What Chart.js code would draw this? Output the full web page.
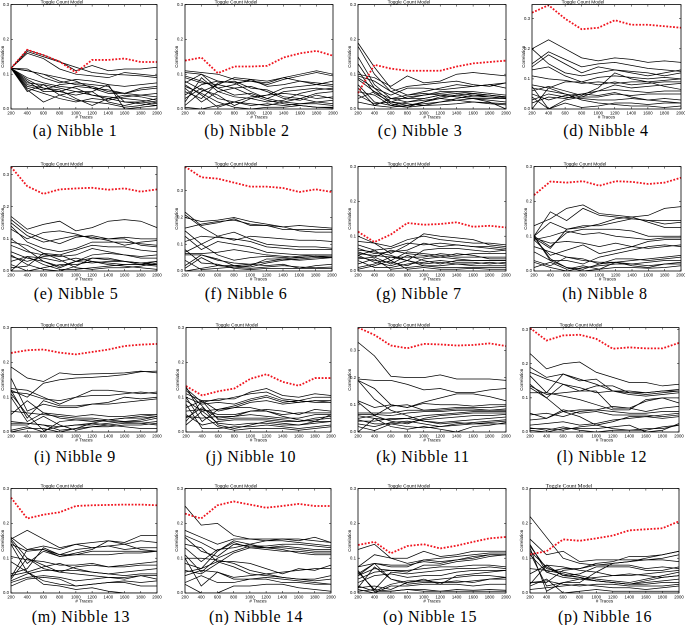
<!DOCTYPE html>
<html><head><meta charset="utf-8">
<script src="https://cdn.jsdelivr.net/npm/chart.js@4"></script>
<style>
body{margin:0;background:#fff;width:685px;height:625px;position:relative;overflow:hidden}
canvas{position:absolute}
.cap{position:absolute;width:200px;text-align:center;font-family:"Liberation Serif",serif;font-size:16px;letter-spacing:0.6px;line-height:16px;color:#000;white-space:nowrap}
</style></head><body>
<script>
// ---------------- DATA ----------------
const traceCounts = ['200','400','600','800','1000','1200','1400','1600','1800','2000'];
const captions = ['(a) Nibble 1','(b) Nibble 2','(c) Nibble 3','(d) Nibble 4','(e) Nibble 5','(f) Nibble 6','(g) Nibble 7','(h) Nibble 8','(i) Nibble 9','(j) Nibble 10','(k) Nibble 11','(l) Nibble 12','(m) Nibble 13','(n) Nibble 14','(o) Nibble 15','(p) Nibble 16'];
const yMaxes = [0.3,0.3,0.3,0.347,0.325,0.39,0.3,0.3,0.3,0.3,0.384,0.306,0.3,0.3,0.3,0.3];
const yTickValues = [0,0.1,0.2,0.3];

const nibble1Red = [0.117,0.17,0.155,0.136,0.105,0.141,0.141,0.145,0.135,0.135];
const nibble1Black = [
[0.117,0.17,0.155,0.137,0.11,0.125,0.11,0.115,0.115,0.12],
[0.117,0.165,0.15,0.135,0.12,0.105,0.1,0.098,0.095,0.09],
[0.117,0.16,0.145,0.115,0.1,0.095,0.09,0.105,0.1,0.095],
[0.117,0.115,0.09,0.075,0.085,0.08,0.07,0.065,0.07,0.075],
[0.117,0.11,0.1,0.08,0.07,0.065,0.05,0.045,0.04,0.035],
[0.117,0.09,0.075,0.065,0.06,0.04,0.035,0.03,0.025,0.02],
[0.117,0.085,0.06,0.05,0.065,0.06,0.045,0.045,0.055,0.06],
[0.117,0.08,0.05,0.05,0.04,0.05,0.02,0.01,0.02,0.03],
[0.117,0.07,0.06,0.055,0.03,0.01,0.03,0.02,0.015,0.01],
[0.117,0.065,0.055,0.07,0.075,0.07,0.065,0.02,0.02,0.015],
[0.117,0.06,0.045,0.03,0.02,0.03,0.025,0.035,0.04,0.045],
[0.117,0.055,0.02,0.04,0.05,0.05,0.07,0.0,0.005,0.01],
[0.117,0.05,0.07,0.06,0.05,0.04,0.03,0.04,0.035,0.025],
[0.117,0.11,0.1,0.09,0.08,0.06,0.055,0.045,0.06,0.065],
[0.117,0.075,0.07,0.04,0.025,0.02,0.015,0.005,0.01,0.02]];

const nibble2Red = [0.139,0.148,0.103,0.122,0.122,0.124,0.148,0.16,0.167,0.153];
const nibble2Black = [
[0.11,0.105,0.1,0.085,0.08,0.075,0.09,0.1,0.11,0.1],
[0.105,0.1,0.08,0.075,0.08,0.07,0.085,0.095,0.105,0.095],
[0.095,0.08,0.06,0.07,0.085,0.08,0.09,0.08,0.07,0.065],
[0.09,0.075,0.07,0.09,0.085,0.065,0.07,0.08,0.075,0.07],
[0.08,0.055,0.04,0.01,0.03,0.04,0.06,0.065,0.07,0.08],
[0.075,0.1,0.06,0.04,0.045,0.03,0.05,0.055,0.06,0.055],
[0.07,0.04,0.005,0.02,0.035,0.04,0.045,0.04,0.03,0.035],
[0.06,0.02,0.05,0.06,0.065,0.05,0.03,0.025,0.04,0.03],
[0.05,0.03,0.075,0.08,0.06,0.055,0.035,0.03,0.02,0.025],
[0.04,0.07,0.08,0.075,0.05,0.03,0.02,0.015,0.015,0.01],
[0.03,0.06,0.03,0.02,0.015,0.01,0.02,0.03,0.045,0.05],
[0.01,0.05,0.07,0.06,0.04,0.025,0.015,0.01,0.005,0.003],
[0.005,0.0,0.01,0.02,0.01,0.015,0.01,0.015,0.02,0.015],
[0.02,0.09,0.05,0.035,0.03,0.02,0.025,0.045,0.055,0.06],
[0.065,0.045,0.02,0.005,0.0,0.005,0.005,0.01,0.005,0.005]];

const nibble3Red = [0.046,0.127,0.116,0.11,0.11,0.11,0.122,0.131,0.135,0.139];
const nibble3Black = [
[0.19,0.12,0.06,0.04,0.05,0.06,0.07,0.065,0.07,0.075],
[0.18,0.1,0.05,0.03,0.03,0.04,0.045,0.04,0.04,0.035],
[0.15,0.07,0.03,0.03,0.04,0.05,0.05,0.05,0.045,0.04],
[0.13,0.06,0.02,0.01,0.02,0.035,0.04,0.035,0.035,0.03],
[0.1,0.09,0.065,0.095,0.075,0.08,0.1,0.105,0.1,0.095],
[0.095,0.08,0.05,0.065,0.07,0.075,0.08,0.07,0.065,0.075],
[0.09,0.06,0.04,0.06,0.06,0.055,0.06,0.065,0.07,0.06],
[0.085,0.05,0.015,0.005,0.02,0.03,0.04,0.045,0.04,0.035],
[0.07,0.02,0.01,0.02,0.03,0.04,0.035,0.03,0.03,0.03],
[0.06,0.01,0.03,0.04,0.045,0.04,0.035,0.03,0.025,0.02],
[0.05,0.04,0.01,0.005,0.01,0.02,0.03,0.04,0.035,0.03],
[0.04,0.015,0.02,0.035,0.04,0.045,0.05,0.045,0.04,0.033],
[0.03,0.05,0.03,0.02,0.025,0.03,0.025,0.02,0.015,0.012],
[0.02,0.01,0.005,0.01,0.015,0.02,0.025,0.03,0.02,0.0],
[0.11,0.045,0.02,0.015,0.01,0.012,0.015,0.02,0.018,0.015]];

const nibble4Red = [0.32,0.345,0.3,0.265,0.27,0.295,0.28,0.28,0.275,0.27];
const nibble4Black = [
[0.2,0.23,0.2,0.17,0.16,0.17,0.165,0.155,0.16,0.155],
[0.15,0.19,0.165,0.14,0.15,0.155,0.145,0.135,0.13,0.125],
[0.14,0.18,0.15,0.12,0.14,0.13,0.12,0.11,0.12,0.13],
[0.2,0.15,0.12,0.11,0.12,0.13,0.125,0.12,0.11,0.12],
[0.13,0.14,0.11,0.09,0.105,0.11,0.105,0.1,0.105,0.1],
[0.11,0.1,0.095,0.085,0.09,0.085,0.09,0.09,0.095,0.1],
[0.08,0.07,0.09,0.09,0.08,0.09,0.08,0.085,0.09,0.09],
[0.07,0.06,0.05,0.04,0.06,0.08,0.07,0.075,0.08,0.085],
[0.06,0.075,0.06,0.045,0.07,0.12,0.1,0.09,0.075,0.065],
[0.05,0.03,0.045,0.05,0.06,0.065,0.06,0.055,0.06,0.06],
[0.04,0.0,0.03,0.04,0.04,0.05,0.045,0.05,0.05,0.05],
[0.03,0.05,0.04,0.035,0.03,0.03,0.035,0.03,0.035,0.03],
[0.0,0.07,0.05,0.03,0.02,0.015,0.01,0.01,0.005,0.01],
[0.075,0.0,0.02,0.005,0.01,0.02,0.02,0.015,0.02,0.02],
[0.02,0.04,0.035,0.05,0.045,0.055,0.04,0.03,0.025,0.02]];

const nibble5Red = [0.324,0.264,0.24,0.254,0.257,0.259,0.253,0.257,0.247,0.254];
const nibble5Black = [
[0.17,0.13,0.145,0.155,0.125,0.135,0.155,0.16,0.155,0.135],
[0.16,0.12,0.1,0.085,0.105,0.11,0.1,0.105,0.1,0.1],
[0.15,0.11,0.09,0.1,0.11,0.105,0.095,0.08,0.09,0.095],
[0.14,0.09,0.07,0.06,0.07,0.09,0.09,0.09,0.085,0.08],
[0.13,0.1,0.12,0.125,0.115,0.1,0.1,0.1,0.08,0.075],
[0.09,0.08,0.055,0.05,0.065,0.08,0.075,0.075,0.065,0.06],
[0.08,0.06,0.05,0.045,0.05,0.07,0.06,0.05,0.045,0.05],
[0.1,0.065,0.03,0.01,0.03,0.05,0.055,0.05,0.04,0.04],
[0.05,0.02,0.005,0.0,0.015,0.04,0.04,0.03,0.02,0.03],
[0.045,0.03,0.045,0.05,0.03,0.025,0.03,0.03,0.025,0.03],
[0.03,0.045,0.04,0.03,0.04,0.03,0.025,0.02,0.02,0.02],
[0.0,0.045,0.02,0.005,0.005,0.01,0.015,0.02,0.02,0.015],
[0.02,0.0,0.01,0.02,0.02,0.03,0.02,0.015,0.01,0.005],
[0.01,0.015,0.055,0.035,0.01,0.005,0.01,0.01,0.015,0.025],
[0.06,0.04,0.03,0.015,0.03,0.04,0.035,0.03,0.025,0.02]];

const nibble6Red = [0.39,0.35,0.345,0.33,0.315,0.315,0.31,0.295,0.305,0.295];
const nibble6Black = [
[0.2,0.185,0.19,0.2,0.185,0.175,0.165,0.17,0.165,0.16],
[0.22,0.17,0.18,0.195,0.17,0.17,0.155,0.155,0.155,0.155],
[0.16,0.175,0.185,0.19,0.175,0.17,0.165,0.15,0.145,0.145],
[0.21,0.165,0.13,0.115,0.13,0.125,0.12,0.115,0.115,0.11],
[0.15,0.1,0.13,0.145,0.12,0.1,0.095,0.09,0.09,0.085],
[0.11,0.13,0.125,0.12,0.11,0.09,0.085,0.08,0.08,0.08],
[0.13,0.08,0.11,0.1,0.09,0.07,0.065,0.06,0.06,0.06],
[0.065,0.065,0.07,0.08,0.07,0.06,0.055,0.05,0.055,0.055],
[0.07,0.1,0.06,0.04,0.05,0.055,0.05,0.055,0.06,0.06],
[0.06,0.06,0.04,0.03,0.025,0.035,0.045,0.05,0.055,0.05],
[0.02,0.06,0.045,0.02,0.015,0.03,0.04,0.045,0.05,0.05],
[0.01,0.05,0.02,0.015,0.02,0.045,0.045,0.04,0.045,0.05],
[0.0,0.01,0.02,0.02,0.025,0.02,0.025,0.01,0.02,0.025],
[0.04,0.005,0.01,0.015,0.01,0.015,0.02,0.015,0.012,0.015],
[0.08,0.03,0.025,0.01,0.005,0.01,0.01,0.01,0.01,0.01]];

const nibble7Red = [0.113,0.083,0.105,0.138,0.133,0.135,0.14,0.127,0.13,0.125];
const nibble7Black = [
[0.1,0.08,0.05,0.075,0.107,0.1,0.095,0.09,0.075,0.07],
[0.085,0.08,0.07,0.09,0.1,0.09,0.085,0.08,0.08,0.075],
[0.075,0.06,0.065,0.08,0.075,0.08,0.075,0.07,0.065,0.06],
[0.065,0.05,0.055,0.06,0.08,0.07,0.075,0.07,0.07,0.065],
[0.06,0.055,0.045,0.03,0.06,0.065,0.065,0.06,0.055,0.06],
[0.05,0.045,0.04,0.04,0.04,0.05,0.045,0.05,0.05,0.05],
[0.045,0.06,0.03,0.055,0.05,0.045,0.04,0.04,0.04,0.04],
[0.04,0.03,0.025,0.015,0.035,0.04,0.05,0.045,0.035,0.035],
[0.035,0.04,0.02,0.045,0.03,0.02,0.03,0.03,0.03,0.03],
[0.03,0.01,0.01,0.02,0.025,0.03,0.025,0.025,0.02,0.025],
[0.02,0.035,0.005,0.01,0.015,0.015,0.02,0.015,0.015,0.015],
[0.01,0.02,0.04,0.03,0.015,0.01,0.01,0.01,0.01,0.01],
[0.005,0.015,0.03,0.005,0.01,0.005,0.005,0.008,0.005,0.005],
[0.045,0.025,0.015,0.03,0.02,0.025,0.02,0.02,0.025,0.02],
[0.055,0.04,0.06,0.05,0.045,0.04,0.035,0.03,0.03,0.03]];

const nibble8Red = [0.218,0.257,0.254,0.258,0.245,0.258,0.256,0.25,0.254,0.268];
const nibble8Black = [
[0.1,0.17,0.145,0.18,0.16,0.155,0.15,0.145,0.145,0.145],
[0.13,0.15,0.18,0.19,0.165,0.16,0.155,0.16,0.18,0.185],
[0.1,0.14,0.12,0.125,0.135,0.15,0.155,0.14,0.125,0.125],
[0.095,0.065,0.12,0.13,0.13,0.14,0.15,0.145,0.135,0.14],
[0.1,0.07,0.11,0.12,0.12,0.12,0.115,0.1,0.1,0.1],
[0.09,0.1,0.115,0.105,0.11,0.1,0.095,0.09,0.095,0.095],
[0.095,0.08,0.085,0.08,0.07,0.08,0.07,0.085,0.09,0.09],
[0.09,0.045,0.06,0.075,0.05,0.06,0.07,0.065,0.07,0.075],
[0.055,0.03,0.03,0.02,0.04,0.05,0.06,0.07,0.075,0.07],
[0.1,0.03,0.01,0.005,0.02,0.035,0.035,0.03,0.035,0.04],
[0.03,0.015,0.04,0.035,0.02,0.025,0.02,0.025,0.03,0.03],
[0.025,0.01,0.0,0.01,0.015,0.02,0.02,0.015,0.02,0.02],
[0.01,0.025,0.005,0.015,0.005,0.01,0.01,0.008,0.01,0.015],
[0.1,0.035,0.01,0.0,0.005,0.025,0.015,0.01,0.02,0.025],
[0.07,0.055,0.04,0.03,0.025,0.025,0.03,0.035,0.04,0.045]];

const nibble9Red = [0.227,0.235,0.237,0.228,0.223,0.23,0.237,0.247,0.251,0.253];
const nibble9Black = [
[0.187,0.155,0.145,0.17,0.165,0.167,0.168,0.17,0.175,0.17],
[0.12,0.1,0.14,0.15,0.155,0.157,0.16,0.165,0.173,0.175],
[0.125,0.12,0.1,0.08,0.1,0.12,0.12,0.115,0.11,0.115],
[0.115,0.11,0.095,0.09,0.1,0.105,0.105,0.11,0.115,0.11],
[0.155,0.06,0.08,0.07,0.07,0.08,0.085,0.1,0.095,0.1],
[0.12,0.04,0.09,0.075,0.075,0.08,0.08,0.085,0.09,0.095],
[0.1,0.03,0.055,0.05,0.045,0.05,0.045,0.045,0.05,0.05],
[0.06,0.055,0.05,0.045,0.04,0.04,0.035,0.04,0.045,0.05],
[0.03,0.025,0.02,0.005,0.01,0.025,0.035,0.03,0.035,0.045],
[0.025,0.025,0.02,0.015,0.02,0.02,0.025,0.03,0.03,0.04],
[0.02,0.02,0.045,0.02,0.005,0.015,0.02,0.025,0.025,0.03],
[0.0,0.01,0.01,0.0,0.01,0.015,0.015,0.02,0.02,0.025],
[0.005,0.015,0.0,0.03,0.035,0.035,0.03,0.028,0.025,0.02],
[0.11,0.05,0.005,0.015,0.02,0.025,0.02,0.015,0.01,0.01],
[0.05,0.09,0.055,0.04,0.035,0.03,0.035,0.04,0.04,0.045]];

const nibble10Red = [0.132,0.105,0.117,0.125,0.153,0.166,0.144,0.133,0.155,0.155];
const nibble10Black = [
[0.125,0.085,0.095,0.095,0.115,0.125,0.105,0.1,0.11,0.105],
[0.11,0.09,0.09,0.1,0.11,0.115,0.095,0.09,0.1,0.1],
[0.1,0.08,0.085,0.08,0.095,0.105,0.09,0.085,0.09,0.09],
[0.09,0.06,0.065,0.075,0.09,0.1,0.085,0.09,0.085,0.085],
[0.07,0.09,0.06,0.07,0.085,0.09,0.08,0.085,0.09,0.085],
[0.12,0.075,0.02,0.01,0.02,0.03,0.025,0.02,0.03,0.05],
[0.13,0.05,0.015,0.005,0.01,0.01,0.01,0.005,0.01,0.015],
[0.06,0.065,0.05,0.05,0.06,0.06,0.05,0.055,0.055,0.055],
[0.04,0.07,0.04,0.045,0.05,0.045,0.04,0.04,0.05,0.05],
[0.03,0.09,0.035,0.04,0.04,0.04,0.035,0.03,0.04,0.045],
[0.05,0.02,0.03,0.035,0.035,0.035,0.03,0.03,0.035,0.04],
[0.02,0.06,0.025,0.02,0.025,0.025,0.02,0.02,0.025,0.03],
[0.08,0.01,0.01,0.015,0.015,0.02,0.015,0.01,0.015,0.02],
[0.045,0.04,0.045,0.045,0.06,0.065,0.06,0.05,0.065,0.06],
[0.1,0.03,0.065,0.07,0.07,0.06,0.045,0.035,0.03,0.03]];

const nibble11Red = [0.384,0.357,0.318,0.308,0.324,0.322,0.318,0.32,0.326,0.316];
const nibble11Black = [
[0.33,0.28,0.205,0.2,0.2,0.21,0.195,0.195,0.195,0.19],
[0.195,0.19,0.19,0.175,0.155,0.16,0.145,0.145,0.155,0.16],
[0.19,0.16,0.1,0.09,0.11,0.125,0.14,0.14,0.13,0.115],
[0.115,0.09,0.1,0.09,0.105,0.1,0.1,0.095,0.1,0.1],
[0.11,0.06,0.095,0.1,0.08,0.085,0.09,0.09,0.09,0.095],
[0.07,0.07,0.07,0.08,0.08,0.08,0.085,0.085,0.08,0.085],
[0.065,0.065,0.06,0.07,0.075,0.075,0.08,0.08,0.08,0.08],
[0.06,0.05,0.045,0.05,0.06,0.065,0.07,0.075,0.075,0.075],
[0.05,0.06,0.04,0.03,0.05,0.06,0.065,0.07,0.07,0.07],
[0.045,0.03,0.03,0.035,0.045,0.05,0.055,0.06,0.06,0.065],
[0.04,0.04,0.05,0.05,0.04,0.035,0.04,0.045,0.05,0.055],
[0.03,0.02,0.035,0.04,0.03,0.02,0.025,0.03,0.035,0.04],
[0.0,0.05,0.02,0.01,0.02,0.01,0.0,0.02,0.025,0.035],
[0.19,0.12,0.08,0.06,0.04,0.03,0.035,0.03,0.03,0.03],
[0.02,0.005,0.03,0.02,0.015,0.02,0.03,0.035,0.04,0.045]];

const nibble12Red = [0.305,0.268,0.283,0.285,0.273,0.244,0.248,0.245,0.245,0.261];
const nibble12Black = [
[0.23,0.185,0.2,0.205,0.175,0.16,0.145,0.145,0.135,0.14],
[0.19,0.16,0.17,0.15,0.155,0.12,0.12,0.115,0.12,0.125],
[0.175,0.155,0.14,0.12,0.135,0.135,0.115,0.115,0.12,0.12],
[0.165,0.115,0.17,0.155,0.14,0.12,0.115,0.11,0.115,0.12],
[0.14,0.1,0.14,0.13,0.115,0.12,0.11,0.105,0.11,0.115],
[0.135,0.11,0.115,0.12,0.12,0.07,0.07,0.09,0.1,0.1],
[0.13,0.1,0.06,0.045,0.02,0.03,0.045,0.045,0.05,0.055],
[0.115,0.115,0.105,0.095,0.08,0.065,0.065,0.095,0.1,0.085],
[0.055,0.04,0.06,0.065,0.065,0.075,0.07,0.06,0.07,0.075],
[0.05,0.055,0.045,0.06,0.065,0.06,0.055,0.055,0.06,0.06],
[0.035,0.04,0.065,0.055,0.06,0.05,0.05,0.05,0.045,0.05],
[0.02,0.025,0.03,0.02,0.025,0.035,0.04,0.045,0.04,0.045],
[0.01,0.01,0.005,0.015,0.02,0.01,0.005,0.01,0.01,0.02],
[0.005,0.0,0.01,0.01,0.01,0.015,0.02,0.0,0.005,0.025],
[0.012,0.005,0.015,0.005,0.0,0.005,0.005,0.005,0.015,0.02]];

const nibble13Red = [0.274,0.214,0.225,0.232,0.25,0.252,0.253,0.254,0.254,0.252];
const nibble13Black = [
[0.155,0.18,0.155,0.13,0.14,0.145,0.15,0.145,0.165,0.165],
[0.16,0.125,0.135,0.125,0.14,0.13,0.135,0.14,0.15,0.145],
[0.14,0.12,0.125,0.11,0.125,0.13,0.135,0.125,0.13,0.13],
[0.045,0.125,0.125,0.105,0.115,0.125,0.15,0.14,0.125,0.12],
[0.15,0.085,0.12,0.105,0.11,0.11,0.11,0.115,0.115,0.12],
[0.105,0.095,0.09,0.08,0.08,0.085,0.075,0.08,0.085,0.09],
[0.04,0.1,0.08,0.06,0.075,0.08,0.075,0.075,0.08,0.08],
[0.05,0.06,0.075,0.085,0.07,0.06,0.055,0.06,0.065,0.07],
[0.035,0.055,0.065,0.065,0.065,0.06,0.055,0.05,0.055,0.055],
[0.03,0.045,0.05,0.045,0.035,0.04,0.045,0.045,0.05,0.05],
[0.155,0.1,0.07,0.06,0.055,0.05,0.045,0.04,0.05,0.04],
[0.02,0.04,0.045,0.04,0.02,0.025,0.03,0.035,0.03,0.035],
[0.09,0.06,0.025,0.02,0.01,0.015,0.005,0.0,0.0,0.0],
[0.14,0.06,0.035,0.025,0.02,0.025,0.03,0.03,0.02,0.02],
[0.055,0.07,0.13,0.11,0.11,0.12,0.12,0.12,0.12,0.12]];

const nibble14Red = [0.228,0.214,0.252,0.263,0.254,0.245,0.25,0.256,0.25,0.25];
const nibble14Black = [
[0.25,0.195,0.2,0.165,0.155,0.15,0.155,0.155,0.15,0.145],
[0.18,0.16,0.14,0.155,0.155,0.155,0.155,0.15,0.16,0.145],
[0.165,0.145,0.12,0.15,0.14,0.15,0.15,0.145,0.14,0.135],
[0.16,0.12,0.105,0.14,0.135,0.135,0.14,0.14,0.135,0.13],
[0.13,0.09,0.125,0.13,0.14,0.13,0.135,0.13,0.125,0.125],
[0.11,0.06,0.1,0.12,0.135,0.13,0.13,0.125,0.12,0.12],
[0.065,0.055,0.085,0.115,0.13,0.125,0.12,0.12,0.115,0.115],
[0.06,0.07,0.12,0.145,0.13,0.13,0.125,0.115,0.11,0.11],
[0.14,0.13,0.09,0.075,0.055,0.05,0.045,0.04,0.04,0.05],
[0.1,0.1,0.095,0.085,0.065,0.055,0.045,0.04,0.035,0.04],
[0.085,0.07,0.09,0.09,0.085,0.07,0.055,0.07,0.065,0.08],
[0.05,0.065,0.06,0.045,0.05,0.055,0.06,0.065,0.07,0.07],
[0.03,0.05,0.03,0.03,0.04,0.045,0.04,0.035,0.03,0.025],
[0.025,0.0,0.0,0.02,0.02,0.025,0.025,0.015,0.01,0.005],
[0.1,0.02,0.06,0.04,0.04,0.04,0.03,0.03,0.025,0.025]];

const nibble15Red = [0.138,0.147,0.114,0.135,0.14,0.128,0.136,0.147,0.157,0.161];
const nibble15Black = [
[0.125,0.14,0.1,0.1,0.12,0.105,0.11,0.12,0.12,0.12],
[0.075,0.11,0.1,0.085,0.095,0.1,0.105,0.11,0.115,0.115],
[0.075,0.085,0.08,0.08,0.09,0.085,0.095,0.1,0.11,0.11],
[0.05,0.085,0.075,0.075,0.095,0.09,0.095,0.105,0.11,0.11],
[0.05,0.07,0.065,0.06,0.08,0.08,0.09,0.095,0.105,0.11],
[0.04,0.06,0.065,0.065,0.07,0.075,0.075,0.08,0.08,0.075],
[0.06,0.01,0.06,0.055,0.06,0.065,0.07,0.07,0.075,0.07],
[0.03,0.05,0.055,0.045,0.05,0.05,0.06,0.065,0.065,0.065],
[0.055,0.085,0.04,0.03,0.04,0.025,0.05,0.055,0.06,0.065],
[0.02,0.005,0.025,0.035,0.035,0.04,0.045,0.05,0.05,0.045],
[0.015,0.02,0.01,0.03,0.035,0.03,0.03,0.035,0.04,0.04],
[0.01,0.0,0.02,0.02,0.025,0.025,0.025,0.02,0.025,0.025],
[0.005,0.01,0.005,0.01,0.01,0.005,0.01,0.008,0.01,0.008],
[0.015,0.075,0.04,0.025,0.03,0.03,0.035,0.03,0.04,0.045],
[0.065,0.005,0.005,0.01,0.005,0.005,0.005,0.005,0.005,0.005]];

const nibble16Red = [0.111,0.12,0.154,0.15,0.157,0.165,0.18,0.183,0.186,0.206];
const nibble16Black = [
[0.22,0.16,0.1,0.085,0.08,0.085,0.09,0.095,0.095,0.09],
[0.155,0.11,0.12,0.09,0.095,0.095,0.095,0.095,0.1,0.11],
[0.14,0.06,0.07,0.07,0.085,0.09,0.105,0.105,0.11,0.12],
[0.135,0.07,0.06,0.05,0.04,0.035,0.03,0.04,0.05,0.06],
[0.12,0.075,0.05,0.045,0.035,0.03,0.025,0.03,0.035,0.04],
[0.11,0.06,0.045,0.04,0.035,0.03,0.025,0.035,0.045,0.05],
[0.07,0.065,0.055,0.045,0.035,0.03,0.025,0.025,0.03,0.03],
[0.055,0.08,0.075,0.065,0.06,0.05,0.05,0.055,0.06,0.065],
[0.03,0.03,0.065,0.07,0.08,0.08,0.08,0.07,0.075,0.07],
[0.025,0.08,0.05,0.055,0.075,0.075,0.075,0.065,0.065,0.075],
[0.13,0.005,0.03,0.03,0.06,0.085,0.09,0.1,0.11,0.12],
[0.01,0.015,0.02,0.025,0.02,0.015,0.015,0.01,0.015,0.02],
[0.02,0.04,0.0,0.005,0.01,0.005,0.005,0.005,0.005,0.005],
[0.115,0.02,0.03,0.04,0.045,0.05,0.055,0.05,0.045,0.05],
[0.03,0.035,0.025,0.02,0.025,0.025,0.02,0.02,0.02,0.025]];

// ---------------- LAYOUT ----------------
const reds = [nibble1Red,nibble2Red,nibble3Red,nibble4Red,nibble5Red,nibble6Red,nibble7Red,nibble8Red,nibble9Red,nibble10Red,nibble11Red,nibble12Red,nibble13Red,nibble14Red,nibble15Red,nibble16Red];
const blacks = [nibble1Black,nibble2Black,nibble3Black,nibble4Black,nibble5Black,nibble6Black,nibble7Black,nibble8Black,nibble9Black,nibble10Black,nibble11Black,nibble12Black,nibble13Black,nibble14Black,nibble15Black,nibble16Black];
// plot boxes [left, top, right, bottom] in page pixels
const boxes = [
[11,4,157,109],[185,4,333,109],[358,4,506,109],[532,4,681,109],
[11,166,157,271],[185,166,332,271],[358,166,506,271],[534,166,681,271],
[11,327,157,432],[186,327,331,432],[358,327,506,432],[530,327,679,432],
[11,488,157,593],[185,488,331,593],[358,488,506,593],[530,488,679,593]];
const capX = [75,247,420,606,76,246,419,605,75,251,423,602,81,256,430,605];
const capY = [131,294,457,617];

Chart.defaults.font.family = '"Liberation Sans", Arial, sans-serif';
Chart.defaults.color = '#000';

const PADL = 11, PADT = 4, PADR = 8, PADB = 11;

const framePlugin = {
  id: 'frame',
  afterDraw(chart, args, opts) {
    const {ctx, chartArea: a} = chart;
    const xs = chart.scales.x, ys = chart.scales.y;
    ctx.save();
    ctx.strokeStyle = '#000';
    ctx.lineWidth = 0.8;
    ctx.strokeRect(a.left, a.top, a.right - a.left, a.bottom - a.top);
    ctx.lineWidth = 0.5;
    ctx.beginPath();
    xs.ticks.forEach((t, i) => {
      const x = xs.getPixelForTick(i);
      ctx.moveTo(x, a.bottom); ctx.lineTo(x, a.bottom - 2);
      ctx.moveTo(x, a.top); ctx.lineTo(x, a.top + 2);
    });
    ys.ticks.forEach((t, i) => {
      const y = ys.getPixelForTick(i);
      ctx.moveTo(a.left, y); ctx.lineTo(a.left + 2, y);
      ctx.moveTo(a.right, y); ctx.lineTo(a.right - 2, y);
    });
    ctx.stroke();
    ctx.fillStyle = '#000';
    ctx.font = opts.font;
    ctx.textAlign = 'center';
    ctx.textBaseline = 'alphabetic';
    ctx.fillText(opts.text, a.left + opts.dx, a.top - 1);
    ctx.restore();
  }
};

boxes.forEach((b, i) => {
  const [L, T, R, B] = b;
  const cv = document.createElement('canvas');
  const w = (R - L) + PADL + PADR, h = (B - T) + PADT + PADB;
  cv.width = w; cv.height = h;
  cv.style.left = (L - PADL) + 'px';
  cv.style.top = (T - PADT) + 'px';
  cv.style.width = w + 'px'; cv.style.height = h + 'px';
  document.body.appendChild(cv);

  const datasets = blacks[i].map(arr => ({
    data: arr, borderColor: '#000', borderWidth: 0.75, pointRadius: 0, tension: 0, fill: false, order: 2
  }));
  datasets.push({
    data: reds[i], borderColor: '#f0141e', borderWidth: 1.8, borderDash: [1.8, 1.6],
    pointRadius: 0, tension: 0, fill: false, order: 1
  });

  const last = i === 15;
  new Chart(cv, {
    type: 'line',
    data: { labels: traceCounts, datasets },
    plugins: [framePlugin],
    options: {
      responsive: false, animation: false, devicePixelRatio: 2,
      layout: { padding: { top: PADT, right: PADR, left: 0, bottom: 0 } },
      plugins: {
        legend: { display: false }, tooltip: { enabled: false },
        frame: { text: 'Toggle Count Model', dx: last ? 39 : 51,
                 font: last ? '5.6px "Liberation Serif", serif' : '4.8px "Liberation Sans", sans-serif' }
      },
      scales: {
        x: {
          type: 'category', offset: false,
          grid: { display: false, drawTicks: false }, border: { display: false },
          ticks: { font: { size: 4.3 }, padding: 1.5, maxRotation: 0, minRotation: 0, autoSkip: false },
          title: { display: true, text: '# Traces', font: { size: 4.5 }, padding: 0 },
          afterFit: s => { s.height = PADB; }
        },
        y: {
          min: 0, max: yMaxes[i],
          grid: { display: false, drawTicks: false }, border: { display: false },
          afterBuildTicks: s => { s.ticks = yTickValues.map(v => ({ value: v })); },
          ticks: { font: { size: 4.3 }, padding: 2, callback: v => Number(v).toFixed(1) },
          title: { display: true, text: 'Correlation', font: { size: 4.5 }, padding: 0 },
          afterFit: s => { s.width = PADL; }
        }
      }
    }
  });

  const cap = document.createElement('div');
  cap.className = 'cap';
  cap.textContent = captions[i];
  cap.style.left = (capX[i] - 100) + 'px';
  cap.style.top = (capY[Math.floor(i / 4)] - 8) + 'px';
  document.body.appendChild(cap);
});
</script>
</body></html>
